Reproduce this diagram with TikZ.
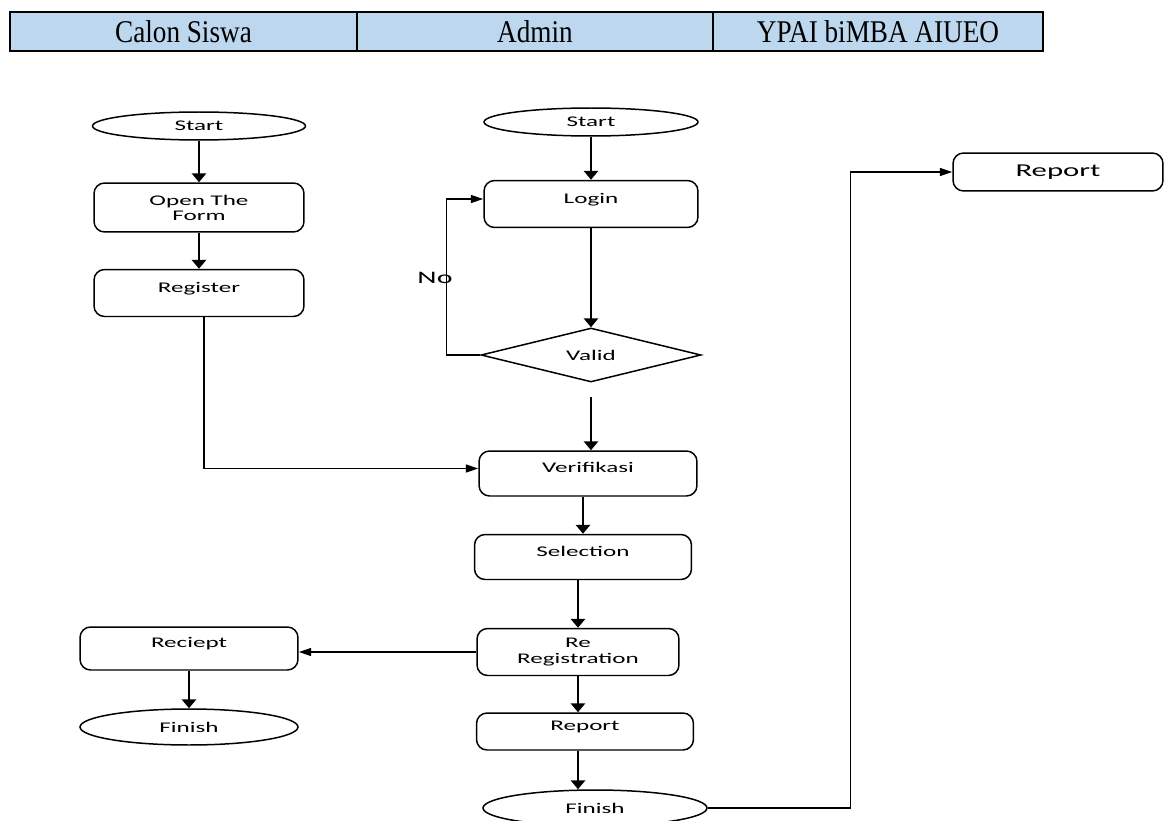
\documentclass[tikz,border=0pt]{standalone}
\usepackage{fontspec}
\setmainfont{Liberation Serif}
\newfontfamily\headfont[FakeStretch=0.86]{Liberation Serif}
\newfontfamily\flowfont[FakeStretch=1.7]{Carlito}
\usetikzlibrary{arrows.meta,shapes.geometric}
\definecolor{headblue}{RGB}{189,215,238}
\tikzset{
%Define standard arrow tip
>={Triangle[length=5pt,width=8pt]},
%Define styles for the lanes and the flow chart
head cell/.style={draw, line width=1.2pt, fill=headblue, minimum height=0.78cm, inner sep=0pt, font=\fontsize{18}{20}\headfont},
process/.style={draw, line width=0.85pt, rounded corners=6pt, inner sep=0pt, align=center, font=\fontsize{8.4}{8.6}\flowfont},
top text/.style={text height=5pt, text depth=6pt},
terminal/.style={draw, ellipse, line width=0.85pt, inner sep=0pt, font=\fontsize{8.4}{8.6}\flowfont},
decision/.style={draw, diamond, aspect=4, line width=0.85pt, inner sep=0pt, font=\fontsize{8.4}{8.6}\flowfont},
flow/.style={line width=1.2pt, ->},
thin flow/.style={line width=0.6pt, -{Triangle[length=7pt,width=4.5pt]}},
}
\begin{document}
\begin{tikzpicture}[x=0.02cm, y=-0.02cm]
\useasboundingbox (0,0) rectangle (1170,821);

% header of the lanes
\node[head cell, minimum width=6.94cm] (calon) at (183.5,31.5) {Calon Siswa};
\node[head cell, minimum width=7.12cm] (admin) at (535,31.5) {Admin};
\node[head cell, minimum width=6.6cm] (ypai) at (878,31.5) {YPAI biMBA AIUEO};

% lane of calon siswa
\node[terminal, minimum width=4.26cm, minimum height=0.56cm] (start1) at (199,126) {Start};
\node[process, minimum width=4.2cm, minimum height=0.98cm] (form) at (199,207.5) {Open The\\Form};
\node[process, top text, minimum width=4.2cm, minimum height=0.94cm] (reg) at (199,293) {Register};
\node[process, top text, minimum width=4.36cm, minimum height=0.86cm] (rec) at (189,648.5) {Reciept};
\node[terminal, minimum width=4.36cm, minimum height=0.72cm] (fin1) at (189,727) {Finish};

% lane of admin
\node[terminal, minimum width=4.28cm, minimum height=0.56cm] (start2) at (591,122) {Start};
\node[process, top text, minimum width=4.28cm, minimum height=0.94cm] (login) at (591,204) {Login};
\node[decision, minimum width=4.4cm, minimum height=1.08cm] (valid) at (591,355) {Valid};
\node[font=\fontsize{10}{11}\flowfont] (no) at (435,278) {No};
\node[process, top text, minimum width=4.36cm, minimum height=0.9cm] (verif) at (588,473.5) {Verifikasi};
\node[process, top text, minimum width=4.34cm, minimum height=0.9cm] (sel) at (583,557) {Selection};
\node[process, minimum width=4.04cm, minimum height=0.94cm] (rereg) at (578,652) {Re\\Registration};
\node[process, top text, minimum width=4.34cm, minimum height=0.74cm] (rep) at (585,731.5) {Report};
\node[terminal, minimum width=4.48cm, minimum height=0.72cm] (fin2) at (595,808) {Finish};

% lane of ypai
\node[process, font=\fontsize{10.3}{11}\flowfont, minimum width=4.2cm, minimum height=0.76cm] (rep2) at (1058,172) {Report};

\coordinate (vgap) at (591,397);

% connectors
\draw[flow] (start1) -- (form);
\draw[flow] (form) -- (reg);
\draw[thin flow] ([xshift=0.1cm]reg.south) |- ([yshift=0.1cm]verif.west);
\draw[flow] (start2) -- (login);
\draw[flow] (login) -- (valid);
\draw[thin flow] (valid.west) -- ++(-34,0) |- ([yshift=0.1cm]login.west);
\draw[flow] (vgap) -- (vgap |- verif.north);
\draw[flow] (sel |- verif.south) -- (sel.north);
\draw[flow] (rereg |- sel.south) -- (rereg.north);
\draw[thin flow] (rereg.west) -- (rereg.west -| rec.east);
\draw[flow] (rec) -- (fin1);
\draw[flow] (rereg.south) -- (rereg.south |- rep.north);
\draw[flow] (rereg.south |- rep.south) -- (rereg.south |- fin2.north);
\draw[thin flow] (fin2.east) -- ++(143,0) |- (rep2.west);

\end{tikzpicture}
\end{document}
